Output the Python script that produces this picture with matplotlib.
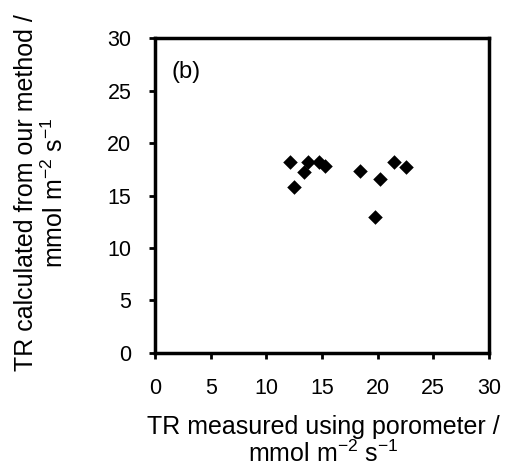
"""
Scatter of TR from our method against porometer TR, panel (b).
"""

import matplotlib
matplotlib.use('Agg')
import matplotlib.pyplot as plt

# * Values
tr_porometer = [12.15, 12.45, 13.35, 13.75, 14.75, 15.25, 18.4, 19.75, 20.25, 21.45, 22.55]
tr_method = [18.15, 15.8, 17.25, 18.2, 18.15, 17.8, 17.35, 12.95, 16.6, 18.15, 17.75]
ticks = [0, 5, 10, 15, 20, 25, 30]

plt.rcParams['font.family'] = ['Liberation Sans', 'DejaVu Sans']
plt.rcParams['mathtext.fontset'] = 'custom'
plt.rcParams['mathtext.rm'] = 'Liberation Sans'
fs_tick = 15.5
fs_label = 18

fig = plt.figure(figsize=(5.05, 4.70), dpi=100)
ax = fig.add_axes([0.307, 0.249, 0.661, 0.670])

ax.scatter(tr_porometer, tr_method, marker='D', s=55, color='black', linewidths=0)

ax.set_xlim(0, 30)
ax.set_ylim(0, 30)
ax.set_xticks(ticks)
ax.set_yticks(ticks)
ax.tick_params(direction='out', length=4, width=2, labelsize=fs_tick)
ax.tick_params(axis='x', pad=14)
ax.tick_params(axis='y', pad=13)
for spine in ax.spines.values():
    spine.set_linewidth(2.5)

ax.text(1.5, 26.8, '(b)', fontsize=17, va='center')

ax.set_xlabel('TR measured using porometer /\nmmol m$^{\\mathrm{-2}}$ s$^{\\mathrm{-1}}$',
              fontsize=fs_label, linespacing=1.06)
ax.set_ylabel('TR calculated from our method /\nmmol m$^{\\mathrm{-2}}$ s$^{\\mathrm{-1}}$',
              fontsize=fs_label, linespacing=1.2)
ax.xaxis.set_label_coords(0.505, -0.198)
ax.yaxis.set_label_coords(-0.26, 0.508)

plt.savefig('out.png', dpi=100)
